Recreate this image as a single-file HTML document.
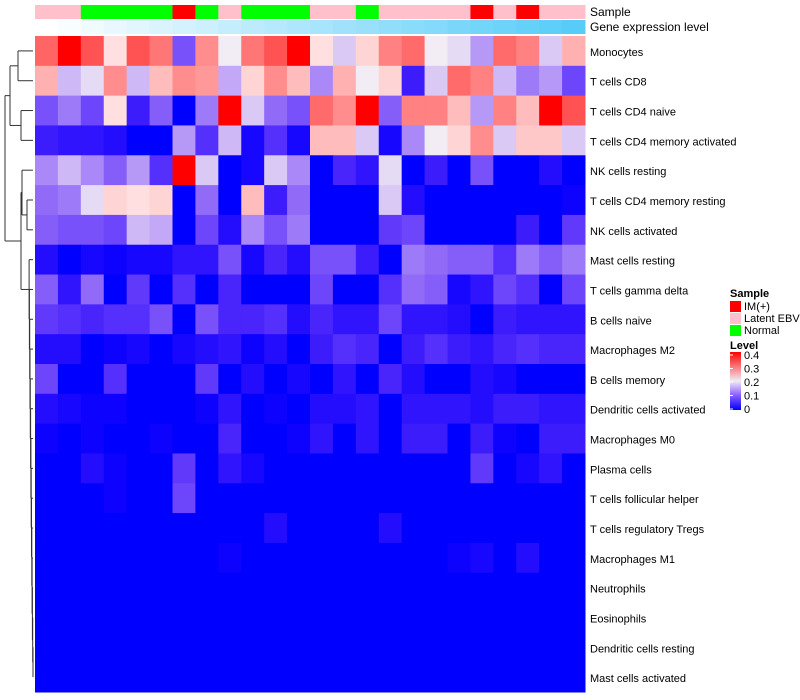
<!DOCTYPE html>
<html><head><meta charset="utf-8"><style>
body{margin:0;background:#fff;}
svg{display:block;font-family:"Liberation Sans",sans-serif;}
</style></head><body>
<svg id="chart" width="800" height="700"></svg>
<script>
const rowLabels=["Monocytes","T cells CD8","T cells CD4 naive","T cells CD4 memory activated","NK cells resting","T cells CD4 memory resting","NK cells activated","Mast cells resting","T cells gamma delta","B cells naive","Macrophages M2","B cells memory","Dendritic cells activated","Macrophages M0","Plasma cells","T cells follicular helper","T cells regulatory  Tregs","Macrophages M1","Neutrophils","Eosinophils","Dendritic cells resting","Mast cells activated"];
const sampleGroups=["L","L","N","N","N","N","I","N","L","N","N","N","L","L","N","L","L","L","L","I","L","I","L","L"];
const exprLevel=[0,0.04,0.08,0.12,0.16,0.2,0.24,0.28,0.32,0.36,0.4,0.44,0.48,0.52,0.56,0.6,0.64,0.68,0.72,0.76,0.8,0.84,0.88,0.92];
const values=[
[.314,.40,.33,.21,.33,.30,.10,.28,.20,.30,.33,.40,.21,.18,.22,.29,.31,.20,.19,.15,.31,.29,.18,.25],
[.25,.17,.19,.28,.17,.24,.28,.27,.16,.22,.28,.24,.14,.25,.20,.22,.05,.18,.31,.29,.17,.13,.15,.09],
[.10,.13,.09,.21,.05,.11,0,.13,.40,.18,.12,.10,.31,.28,.40,.11,.29,.29,.24,.15,.29,.24,.40,.33],
[.05,.04,.04,.03,0,0,.15,.07,.17,.02,.07,.02,.24,.24,.18,.02,.14,.20,.22,.28,.18,.23,.23,.18],
[.14,.17,.14,.11,.15,.07,.40,.18,0,.02,.18,.14,0,.06,.04,.19,0,.05,0,.10,0,0,.03,0],
[.12,.13,.19,.22,.21,.22,0,.12,0,.24,.05,.12,0,0,0,.18,.03,0,0,0,0,0,0,.01],
[.11,.10,.10,.09,.17,.16,0,.09,.03,.14,.10,.13,0,0,0,.08,.09,0,0,0,0,.05,0,.08],
[.03,0,.02,.01,.02,.02,.04,.04,.10,.02,.06,.03,.10,.10,.05,0,.13,.12,.11,.11,.07,.13,.11,.13],
[.11,.04,.12,0,.08,0,.07,0,.06,0,0,0,.09,0,0,.07,.12,.11,.02,.04,.09,.07,0,.09],
[.08,.07,.06,.07,.07,.10,0,.10,.06,.06,.07,.03,.06,.04,.04,.09,.04,.04,.03,0,.05,.04,.04,.04],
[.03,.03,0,.01,.02,0,.02,.03,.04,.01,.03,0,.05,.07,.06,0,.05,.07,.05,.04,.06,.07,.06,.06],
[.09,0,0,.07,0,0,0,.08,0,.03,0,.02,0,.04,0,.06,.03,0,0,.03,.02,0,0,0],
[.03,.02,.01,.01,0,0,0,.01,.04,0,.01,0,.03,.03,.04,0,.04,.04,.04,.03,.05,.05,.04,.04],
[.01,0,.01,0,0,.01,0,0,.06,0,0,.01,.04,0,.04,0,.05,.05,0,.05,.01,0,.05,.05],
[0,0,.03,.01,0,0,.08,0,.04,.02,0,0,0,0,0,0,0,0,0,.08,0,.02,.04,0],
[0,0,0,.01,0,0,.09,0,0,0,0,0,0,0,0,0,0,0,0,0,0,0,0,0],
[0,0,0,0,0,0,0,0,0,0,.03,0,0,0,0,.03,0,0,0,0,0,0,0,0],
[0,0,0,0,0,0,0,0,.01,0,0,0,0,0,0,0,0,0,.01,.02,0,.03,0,0],
[0,0,0,0,0,0,0,0,0,0,0,0,0,0,0,0,0,0,0,0,0,0,0,0],
[0,0,0,0,0,0,0,0,0,0,0,0,0,0,0,0,0,0,0,0,0,0,0,0],
[0,0,0,0,0,0,0,0,0,0,0,0,0,0,0,0,0,0,0,0,0,0,0,0],
[0,0,0,0,0,0,0,0,0,0,0,0,0,0,0,0,0,0,0,0,0,0,0,0]];
const legendTicks=[0,0.1,0.2,0.3,0.4];

const NS="http://www.w3.org/2000/svg";
const svg=document.getElementById('chart');
const X0=35,X1=585,Y0=36,Y1=692;
const nC=sampleGroups.length,nR=rowLabels.length;
const cw=(X1-X0)/nC,rh=(Y1-Y0)/nR;
const xs=c=>X0+c*cw, ys=r=>Y0+r*rh;
function col(v){v=Math.max(0,Math.min(0.4,v));let r,g,b;
 if(v<=0.2){const t=v/0.2;r=Math.round(255*t*0.95);g=Math.round(255*Math.pow(t,1.55)*0.93);b=Math.round(255-11*t);}
 else{const t=(v-0.2)/0.2;r=255;g=b=Math.round(235*(1-t));}
 return `rgb(${r},${g},${b})`;}
function mk(tag,at){const e=document.createElementNS(NS,tag);for(const k in at)e.setAttribute(k,at[k]);svg.appendChild(e);return e;}
const sCol={I:"#ff0000",L:"#ffc0cb",N:"#00ff00"};
for(let c=0;c<nC;c++){
 const a=mk('rect',{x:xs(c),y:5,width:cw+0.5,height:14,fill:sCol[sampleGroups[c]]});
 
 
 const t=exprLevel[c];
 const b=mk('rect',{x:xs(c),y:20,width:cw+0.5,height:14,fill:`rgb(${Math.round(255-183*t)},${Math.round(255-55*t)},${Math.round(255-7*t)})`});
 
 
}
for(let r=0;r<nR;r++){for(let c=0;c<nC;c++){
 const e=mk('rect',{x:xs(c),y:ys(r),width:cw+0.5,height:rh+0.5,fill:col(values[r][c])});
 
 
}
 const t=mk('text',{x:590,y:ys(r)+rh/2+5,'font-size':11,fill:'#000'});t.textContent=rowLabels[r];
 
 
}
const t1=mk('text',{x:590,y:16,'font-size':12});t1.textContent="Sample";

const t2=mk('text',{x:590,y:31,'font-size':12});t2.textContent="Gene expression level";

const g=document.createElementNS(NS,'g');g.setAttribute('stroke','#333');g.setAttribute('fill','none');g.setAttribute('stroke-width','1');
svg.appendChild(g);
function ln(x1,y1,x2,y2){const l=document.createElementNS(NS,'line');l.setAttribute('x1',x1);l.setAttribute('y1',y1);l.setAttribute('x2',x2);l.setAttribute('y2',y2);g.appendChild(l);}
const leafX=33,cy=r=>ys(r)+rh/2;
function merge(a,b,x){ln(x,a.y,x,b.y);ln(x,a.y,a.x,a.y);ln(x,b.y,b.x,b.y);return {x:x,y:(a.y+b.y)/2};}
const L=r=>({x:leafX,y:cy(r)});
const A=merge(L(0),L(1),18),B=merge(L(2),L(3),21),AB=merge(A,B,10);
let node=L(21);
for(let r=20;r>=7;r--){node=merge(L(r),node,Math.max(29,33-(20-r)*0.3));}
const C=merge(L(5),L(6),27);const D=merge(L(4),C,22);
const E=merge(D,node,21);
merge(AB,E,5);
const st=mk('text',{x:730,y:297,'font-size':11,'font-weight':'bold'});st.textContent="Sample";

[["IM(+)","#ff0000"],["Latent EBV","#ffc0cb"],["Normal","#00ff00"]].forEach((d,i)=>{
 const r=mk('rect',{x:730,y:301+i*12,width:11,height:11,fill:d[1]});
 
 const t=mk('text',{x:744,y:310+i*12,'font-size':11});t.textContent=d[0];
 
});
const lt=mk('text',{x:730,y:349,'font-size':11,'font-weight':'bold'});lt.textContent="Level";

const defs=document.createElementNS(NS,'defs');defs.innerHTML='<linearGradient id="lv" x1="0" y1="1" x2="0" y2="0"><stop offset="0" stop-color="#0000ff"/><stop offset="0.25" stop-color="#8a5cff"/><stop offset="0.5" stop-color="#f0ecf4"/><stop offset="1" stop-color="#ff0000"/></linearGradient>';svg.appendChild(defs);
const gb=mk('rect',{x:730,y:352,width:11,height:58,fill:'url(#lv)'});

legendTicks.forEach(v=>{const y=409-v/0.4*54;
 mk('line',{x1:730,x2:733,y1:y,y2:y,stroke:'#fff'});
 const t=mk('text',{x:744,y:y+4,'font-size':11});t.textContent=String(v);
 
});
</script>
</body></html>
